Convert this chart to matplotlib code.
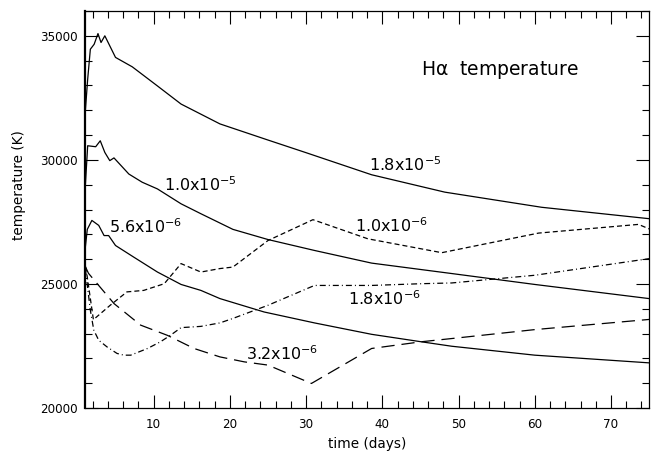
import numpy as np
import matplotlib as mpl
from matplotlib import pyplot as plt
from matplotlib.ticker import MultipleLocator

# curve data: time (days), temperature (K)
t_18e5 = [1.05, 1.35, 1.7, 2.2, 2.7, 3.1, 3.6, 5.0, 7.2, 10.5, 13.6, 18.7, 25.0, 30.0, 38.6, 48.2, 60.9, 75.0]
T_18e5 = [32000, 33250, 34460, 34660, 35090, 34730, 35000, 34130, 33750, 32980, 32250, 31450, 30800, 30290, 29400, 28700, 28090, 27630]

t_10e5 = [1.05, 1.35, 2.4, 3.0, 3.6, 4.25, 4.8, 6.75, 8.5, 10.5, 13.6, 16.2, 20.4, 25.0, 31.1, 38.6, 49.1, 60.0, 75.0]
T_10e5 = [29000, 30570, 30530, 30770, 30300, 29970, 30080, 29430, 29100, 28830, 28230, 27830, 27200, 26790, 26350, 25840, 25420, 24980, 24410]

t_56e6 = [1.05, 1.3, 1.9, 2.8, 3.5, 4.1, 5.0, 7.4, 10.5, 13.6, 16.2, 18.7, 24.5, 31.1, 38.6, 45.1, 49.1, 60.0, 75.0]
T_56e6 = [26500, 27200, 27560, 27360, 26950, 26950, 26550, 26080, 25480, 24980, 24740, 24410, 23870, 23430, 22970, 22670, 22490, 22130, 21820]

t_10e6 = [1.05, 1.2, 2.1, 4.3, 6.5, 8.7, 11.4, 13.6, 16.2, 18.7, 20.4, 25.0, 30.9, 38.1, 47.8, 60.5, 73.6, 75.0]
T_10e6 = [25700, 25480, 23560, 24140, 24680, 24740, 25010, 25820, 25480, 25620, 25680, 26750, 27590, 26820, 26260, 27050, 27400, 27220]

t_18e6 = [1.05, 1.7, 2.15, 2.8, 3.9, 5.2, 6.1, 7.0, 9.2, 10.9, 12.2, 13.6, 16.2, 18.7, 20.4, 25.0, 31.1, 38.6, 45.1, 49.1, 60.0, 75.0]
T_18e6 = [25600, 23940, 23140, 22730, 22460, 22200, 22130, 22130, 22400, 22670, 22930, 23240, 23290, 23430, 23610, 24140, 24940, 24940, 25010, 25040, 25350, 26020]

t_32e6 = [1.05, 1.45, 4.8, 8.3, 11.8, 15.3, 18.7, 21.9, 25.0, 30.7, 38.6, 45.1, 49.1, 60.0, 75.0]
T_32e6 = [25700, 25430, 24210, 23340, 22930, 22400, 22060, 21860, 21730, 20990, 22400, 22670, 22800, 23160, 23570]

labels = ['1.8x10$^{-5}$', '1.0x10$^{-5}$', '5.6x10$^{-6}$',
          '1.0x10$^{-6}$', '1.8x10$^{-6}$', '3.2x10$^{-6}$']
label_pos = [(38.3, 29570), (11.3, 28760), (4.1, 27040),
             (36.4, 27090), (35.5, 24140), (22.1, 21930)]

plt.rcParams['font.family'] = 'DejaVu Sans'
plt.rcParams['mathtext.default'] = 'regular'
plt.rcParams['lines.scale_dashes'] = False

f, ax = plt.subplots(figsize=(6.59, 4.51), dpi=100)

lw = 0.9
ax.plot(t_18e5, T_18e5, color='black', lw=lw)
ax.plot(t_10e5, T_10e5, color='black', lw=lw)
ax.plot(t_56e6, T_56e6, color='black', lw=lw)
ax.plot(t_10e6, T_10e6, color='black', lw=lw, linestyle=(0, (3.6, 2.2)))
ax.plot(t_18e6, T_18e6, color='black', lw=lw, linestyle=(0, (4.3, 2.2, 0.7, 2.2)))
ax.plot(t_32e6, T_32e6, color='black', lw=lw, linestyle=(0, (9.5, 5.0)))

for txt, (x, y) in zip(labels, label_pos):
    ax.text(x, y, txt, fontsize=11.5, ha='left', va='baseline')

ax.text(0.596, 0.851, r'H$\alpha$  temperature', transform=ax.transAxes,
        fontsize=13.5, ha='left', va='center')

ax.set_xlim(1, 75)
ax.set_ylim(20000, 36000)
ax.xaxis.set_major_locator(MultipleLocator(10))
ax.xaxis.set_minor_locator(MultipleLocator(2))
ax.yaxis.set_major_locator(MultipleLocator(5000))
ax.yaxis.set_minor_locator(MultipleLocator(1000))

ax.tick_params(which='both', direction='in', top=True, right=True,
               colors='black', width=0.8, labelsize=8.6)
ax.tick_params(which='major', length=9.5)
ax.tick_params(which='minor', length=5)
ax.tick_params(axis='x', pad=7)
ax.tick_params(axis='y', pad=5.5)

for s in ax.spines.values():
    s.set_linewidth(0.9)
ax.spines['left'].set_linewidth(1.6)

ax.set_xlabel('time (days)', fontsize=9.8)
ax.set_ylabel('temperature (K)', fontsize=9.8)
ax.xaxis.set_label_coords(0.5, -0.073)
ax.yaxis.set_label_coords(-0.105, 0.562)

plt.subplots_adjust(left=0.129, right=0.985, bottom=0.0953, top=0.9756)

f.savefig('out.png', dpi=100)
plt.close()
